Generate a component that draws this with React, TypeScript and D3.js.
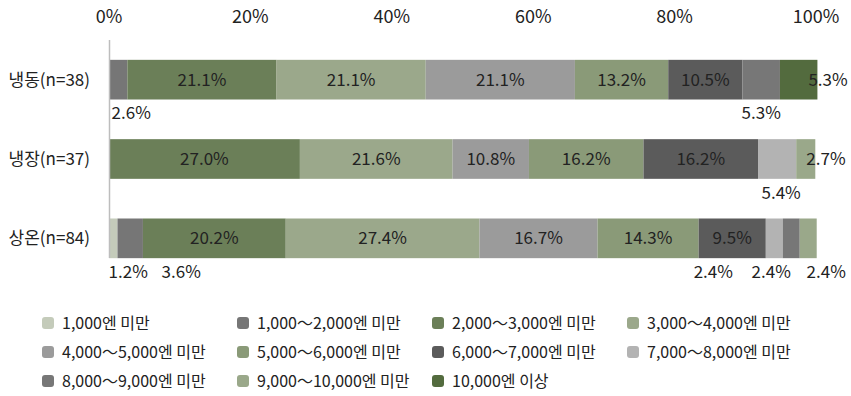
import React from 'react';
import * as d3 from 'd3';

const categories = ['냉동(n=38)', '냉장(n=37)', '상온(n=84)'];
const seriesNames = [
  '1,000엔 미만',
  '1,000～2,000엔 미만',
  '2,000～3,000엔 미만',
  '3,000～4,000엔 미만',
  '4,000～5,000엔 미만',
  '5,000～6,000엔 미만',
  '6,000～7,000엔 미만',
  '7,000～8,000엔 미만',
  '8,000～9,000엔 미만',
  '9,000～10,000엔 미만',
  '10,000엔 이상',
];
const frozenValues = [0, 2.6, 21.1, 21.1, 21.1, 13.2, 10.5, 0, 5.3, 0, 5.3];
const chilledValues = [0, 0, 27.0, 21.6, 10.8, 16.2, 16.2, 5.4, 0, 2.7, 0];
const ambientValues = [1.2, 3.6, 20.2, 27.4, 16.7, 14.3, 9.5, 2.4, 2.4, 2.4, 0];
const xTicks = [0, 20, 40, 60, 80, 100];

// styling (kept apart from data)
const seriesColors = [
  '#c4cbba', '#767676', '#6b7f58', '#9ba88b', '#9b9b9b', '#8a9a78',
  '#5b5b5b', '#b3b3b3', '#777777', '#9aa88a', '#536b3e',
];
// placement of labels for small segments: [categoryIndex, seriesIndex, mode, dx]
const smallLabelPlacement: [number, number, string, number][] = [
  [0, 1, 'below', 13],
  [0, 8, 'below', 0],
  [0, 10, 'end', 0],
  [1, 7, 'below', 4],
  [1, 9, 'end', 0],
  [2, 0, 'below', 15],
  [2, 1, 'below', 51],
  [2, 7, 'below', -61],
  [2, 8, 'below', -20],
  [2, 9, 'below', 18],
];

const FONT = '"Noto Sans CJK KR", "Noto Sans", sans-serif';

export default function App() {
  const W = 851, H = 396;
  const valueRows = [frozenValues, chilledValues, ambientValues];
  const rows = categories.map((c, i) => {
    const o: any = { cat: c };
    seriesNames.forEach((s, j) => (o[s] = valueRows[i][j]));
    return o;
  });
  const stacked = d3.stack<any>().keys(seriesNames)(rows);

  const x = d3.scaleLinear().domain([0, 100]).range([109, 816]);
  const y = d3.scaleBand().domain(categories).range([40, 278]).paddingInner(0.5).paddingOuter(0.25);
  const bw = y.bandwidth();

  const fmt = (v: number) => v.toFixed(1) + '%';

  const labels: any[] = [];
  stacked.forEach((layer, si) => {
    layer.forEach((d, ci) => {
      const v = d[1] - d[0];
      if (v <= 0) return;
      const cat = categories[ci];
      const y0 = y(cat)!;
      const place = smallLabelPlacement.find((p) => p[0] === ci && p[1] === si);
      const xc = (x(d[0]) + x(d[1])) / 2;
      if (!place) {
        labels.push({ key: `${si}-${ci}`, x: xc, y: y0 + bw / 2, anchor: 'middle', text: fmt(v) });
      } else if (place[2] === 'below') {
        labels.push({ key: `${si}-${ci}`, x: xc + place[3], y: y0 + bw + 14, anchor: 'middle', text: fmt(v) });
      } else {
        labels.push({ key: `${si}-${ci}`, x: x(d[1]) - 9 + place[3], y: y0 + bw / 2, anchor: 'start', text: fmt(v) });
      }
    });
  });

  const legendCols = [42, 237, 432, 627];
  const legendRows = [323, 352, 381];

  return (
    <svg width={W} height={H} style={{ position: 'absolute', left: 0, top: 0, background: '#fff' }} fontFamily={FONT}>
      <rect x={0} y={0} width={W} height={H} fill="#fff" />
      {xTicks.map((t) => (
        <text key={t} x={x(t)} y={17} dy="0.35em" textAnchor="middle" fontSize={18} fill="#222">
          {t}%
        </text>
      ))}
      {stacked.map((layer, si) => (
        <g key={si} fill={seriesColors[si]}>
          {layer.map((d, ci) =>
            d[1] - d[0] > 0 ? (
              <rect key={ci} x={x(d[0])} y={y(categories[ci])} width={x(d[1]) - x(d[0])} height={bw} />
            ) : null
          )}
        </g>
      ))}
      <line x1={109.5} x2={109.5} y1={40} y2={258} stroke="#bdbdbd" strokeWidth={1.5} />
      {categories.map((c) => (
        <text key={c} x={90} y={y(c)! + bw / 2} dy="0.35em" textAnchor="end" fontSize={17} fill="#222">
          {c}
        </text>
      ))}
      {labels.map((l) => (
        <text key={l.key} x={l.x} y={l.y} dy="0.35em" textAnchor={l.anchor} fontSize={17} fill="#222">
          {l.text}
        </text>
      ))}
      {seriesNames.map((s, i) => {
        const lx = legendCols[i % 4];
        const ly = legendRows[Math.floor(i / 4)];
        return (
          <g key={s}>
            <rect x={lx} y={ly - 6} width={12} height={12} rx={3} fill={seriesColors[i]} />
            <text x={lx + 20} y={ly} dy="0.35em" fontSize={16} fill="#222">
              {s}
            </text>
          </g>
        );
      })}
    </svg>
  );
}
